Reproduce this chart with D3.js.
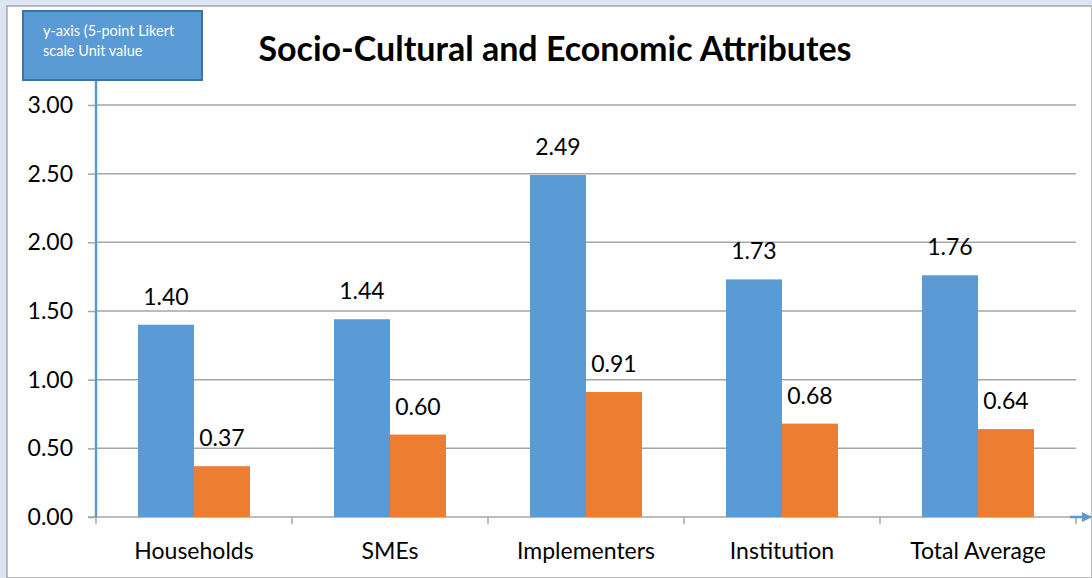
<!DOCTYPE html>
<html>
<head>
<meta charset="utf-8">
<script src="https://cdn.jsdelivr.net/npm/d3@7"></script>
<style>
  html, body { margin: 0; padding: 0; background: #dce6f2; }
  svg { display: block; font-family: Lato, "Liberation Sans", sans-serif; }
</style>
</head>
<body>
<svg id="chart" width="1092" height="578"></svg>
<script>
// Chart data
const categories = ["Households", "SMEs", "Implementers", "Institution", "Total Average"];
const seriesA = [1.40, 1.44, 2.49, 1.73, 1.76];
const seriesB = [0.37, 0.60, 0.91, 0.68, 0.64];
const yTicks = [0, 0.5, 1.0, 1.5, 2.0, 2.5, 3.0];
const titleText = "Socio-Cultural and Economic Attributes";
const boxLines = ["y-axis (5-point Likert", "scale Unit value"];

const colorA = "#5b9bd5";
const colorB = "#ed7d31";
const labelFont = "23px";

const svg = d3.select("#chart");
const W = 1092, H = 578;

// White chart panel with a thin grey frame
svg.append("rect").attr("x", 0).attr("y", 0).attr("width", W).attr("height", H).attr("fill", "#dce6f2");
svg.append("rect").attr("x", 7).attr("y", 6).attr("width", W - 7).attr("height", H - 6)
  .attr("fill", "#fff").attr("stroke", "#a6a6a6").attr("stroke-width", 1.5);

const plot = { left: 96, right: 1076, top: 105, bottom: 517 };

const x = d3.scaleBand().domain(categories).range([plot.left, plot.right]).paddingInner(0).paddingOuter(0);
const inner = d3.scaleBand().domain([0, 1]).range([0, x.bandwidth()]).paddingInner(0).paddingOuter(0.75);
const y = d3.scaleLinear().domain([0, 3]).range([plot.bottom, plot.top]);

// Gridlines
svg.append("g").selectAll("line").data(yTicks.filter(d => d > 0)).join("line")
  .attr("x1", plot.left).attr("x2", plot.right)
  .attr("y1", d => y(d)).attr("y2", d => y(d))
  .attr("stroke", "#a6a6a6").attr("stroke-width", 1.5);

// Y axis
const yAxis = svg.append("g").attr("transform", `translate(${plot.left},0)`)
  .call(d3.axisLeft(y).tickValues(yTicks).tickFormat(d3.format(".2f")).tickSize(8).tickPadding(15));
yAxis.select(".domain").remove();
yAxis.selectAll(".tick line").attr("stroke", "#a6a6a6").attr("stroke-width", 1.5);
yAxis.selectAll(".tick text").attr("fill", "#000").style("font-size", labelFont).style("font-family", "Lato, sans-serif");

// X axis
const xAxis = svg.append("g").attr("transform", `translate(0,${plot.bottom})`)
  .call(d3.axisBottom(x).tickSize(0).tickPadding(26));
xAxis.select(".domain").remove();
xAxis.selectAll(".tick text").attr("fill", "#000").style("font-size", labelFont).style("font-family", "Lato, sans-serif");
svg.append("line").attr("x1", plot.left - 8).attr("x2", plot.right)
  .attr("y1", plot.bottom).attr("y2", plot.bottom).attr("stroke", "#a6a6a6").attr("stroke-width", 1.5);
const bounds = categories.map(c => x(c)).concat([plot.right]);
svg.append("g").selectAll("line").data(bounds).join("line")
  .attr("x1", d => d).attr("x2", d => d)
  .attr("y1", plot.bottom).attr("y2", plot.bottom + 7)
  .attr("stroke", "#a6a6a6").attr("stroke-width", 1.5);

// Bars
const groups = svg.append("g").selectAll("g").data(categories).join("g")
  .attr("transform", d => `translate(${x(d)},0)`);
const series = [seriesA, seriesB];
const colors = [colorA, colorB];
series.forEach((vals, si) => {
  groups.append("rect")
    .attr("x", inner(si)).attr("width", inner.bandwidth())
    .attr("y", (d, i) => y(vals[i]))
    .attr("height", (d, i) => y(0) - y(vals[i]))
    .attr("fill", colors[si]);
  groups.append("text")
    .attr("x", inner(si) + inner.bandwidth() / 2)
    .attr("y", (d, i) => y(vals[i]) - 20)
    .attr("text-anchor", "middle")
    .style("font-size", labelFont)
    .text((d, i) => d3.format(".2f")(vals[i]));
});

// Axis arrows
const defs = svg.append("defs");
defs.append("marker").attr("id", "arrow").attr("viewBox", "0 0 10 10")
  .attr("refX", 9).attr("refY", 5).attr("markerWidth", 4).attr("markerHeight", 4)
  .attr("orient", "auto").append("path").attr("d", "M0,0 L10,5 L0,10 Z").attr("fill", colorA);
svg.append("line").attr("x1", 96).attr("x2", 96).attr("y1", plot.bottom).attr("y2", 80)
  .attr("stroke", colorA).attr("stroke-width", 2.5);
svg.append("line").attr("x1", 1070).attr("x2", 1091).attr("y1", plot.bottom).attr("y2", plot.bottom)
  .attr("stroke", colorA).attr("stroke-width", 2.5).attr("marker-end", "url(#arrow)");

// Annotation box
svg.append("rect").attr("x", 23).attr("y", 11).attr("width", 179).attr("height", 69)
  .attr("fill", colorA).attr("stroke", "#41719c").attr("stroke-width", 2);
svg.append("g").selectAll("text").data(boxLines).join("text")
  .attr("x", 43).attr("y", (d, i) => 36 + i * 20)
  .attr("fill", "#fff").style("font-size", "14.5px").text(d => d);

// Title
svg.append("text").attr("x", 555).attr("y", 61).attr("text-anchor", "middle")
  .style("font-size", "34px").style("font-weight", "bold").text(titleText);
</script>
</body>
</html>
